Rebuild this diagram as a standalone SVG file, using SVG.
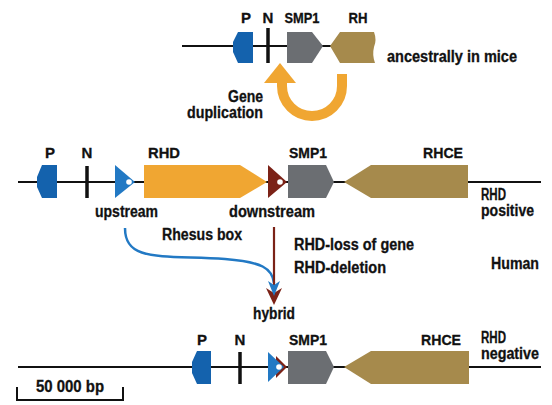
<svg xmlns="http://www.w3.org/2000/svg" width="552" height="405" viewBox="0 0 552 405">
<defs>
<style>
text{font-family:"Liberation Sans","Arial",sans-serif;font-weight:bold;fill:#111;font-size:16px;stroke:#111;stroke-width:0.3;}
.lbl{font-size:15px;text-anchor:middle;}
.line{stroke:#111;stroke-width:2;fill:none;}
.p{fill:#1462ad;}
.n{stroke:#111;stroke-width:3.5;}
.smp{fill:#6b6e72;}
.rh{fill:#a68a4c;}
.rhd{fill:#f0a632;}
.up{fill:#2279c4;}
.dn{fill:#7b2217;}
.hole{fill:#fff;}
</style>
</defs>

<!-- genome lines -->
<g id="lines">
<line class="line" x1="182" y1="46" x2="335" y2="46"/>
<line class="line" x1="18" y1="182" x2="541" y2="182"/>
<line class="line" x1="18" y1="367" x2="541" y2="367"/>
</g>

<!-- Top: ancestral mouse -->
<g id="mouse">
<g id="m-P"><polygon class="p" points="238,32 253,32 253,63 238,63 233,52 233,42"/><text class="lbl" x="246" y="23">P</text></g>
<g id="m-N"><line class="n" x1="268" y1="28" x2="268" y2="63"/><text class="lbl" x="268" y="23">N</text></g>
<g id="m-SMP1"><polygon class="smp" points="287,32 312,32 323,46 312,63 287,63"/><text class="lbl" x="302" y="23" textLength="35" lengthAdjust="spacingAndGlyphs">SMP1</text></g>
<g id="m-RH"><path class="rh" d="M330,46 L340,32 L374,32 Q377,40 374,47 Q372,55 375,63 L340,63 Z"/><text class="lbl" x="358" y="23" textLength="19" lengthAdjust="spacingAndGlyphs">RH</text></g>
<text x="387" y="62" textLength="130" lengthAdjust="spacingAndGlyphs">ancestrally in mice</text>
</g>

<g id="duplication">
<path d="M282,80 L282,86 A30,30 0 0 0 342,86 L342,74" fill="none" stroke="#f0a632" stroke-width="10"/>
<polygon points="280,63 264,83 296,83" fill="#f0a632"/>
<text x="228" y="102" textLength="35" lengthAdjust="spacingAndGlyphs">Gene</text>
<text x="187" y="118" textLength="76" lengthAdjust="spacingAndGlyphs">duplication</text>
</g>

<!-- Middle: RHD positive -->
<g id="pos">
<g id="p-P"><polygon class="p" points="42,165 57,165 57,198 42,198 37,187 37,177"/><text class="lbl" x="50" y="158">P</text></g>
<g id="p-N"><line class="n" x1="87" y1="166" x2="87" y2="198"/><text class="lbl" x="87" y="158">N</text></g>
<g id="p-up"><polygon class="up" points="115,165 135,182 115,198"/><circle class="hole" cx="129" cy="182" r="2.8"/><text x="95" y="217" textLength="63" lengthAdjust="spacingAndGlyphs">upstream</text></g>
<g id="p-RHD"><polygon class="rhd" points="144,165 240,165 267,182 240,198 144,198"/><text class="lbl" x="164" y="158" textLength="32" lengthAdjust="spacingAndGlyphs">RHD</text></g>
<g id="p-dn"><polygon class="dn" points="268,165 287,182 268,198"/><circle class="hole" cx="280" cy="182" r="2.8"/><text x="229" y="217" textLength="86" lengthAdjust="spacingAndGlyphs">downstream</text></g>
<g id="p-SMP1"><polygon class="smp" points="288,165 326,165 334,182 326,198 288,198"/><text class="lbl" x="308" y="158" textLength="38" lengthAdjust="spacingAndGlyphs">SMP1</text></g>
<g id="p-RHCE"><polygon class="rh" points="344,182 371,165 468,165 468,198 371,198"/><text class="lbl" x="443" y="158" textLength="40" lengthAdjust="spacingAndGlyphs">RHCE</text></g>
<text x="481" y="200" textLength="25" lengthAdjust="spacingAndGlyphs">RHD</text>
<text x="481" y="216" textLength="53" lengthAdjust="spacingAndGlyphs">positive</text>
</g>

<!-- connectors -->
<g id="connectors">
<path d="M125,228 C125,262 160,255 225,259 C262,262 272,268 274,283" fill="none" stroke="#2279c4" stroke-width="2.5"/>
<line x1="274" y1="227" x2="274" y2="290" stroke="#7b2217" stroke-width="2.2"/>
<polygon points="266,288 274,293 282,288 274,305" fill="#7b2217"/>
<polygon points="268,281 274,285 280,281 274,296" fill="#2279c4"/>
</g>

<text x="162" y="240" textLength="80" lengthAdjust="spacingAndGlyphs">Rhesus box</text>
<text x="294" y="250" textLength="120" lengthAdjust="spacingAndGlyphs">RHD-loss of gene</text>
<text x="294" y="273" textLength="92" lengthAdjust="spacingAndGlyphs">RHD-deletion</text>
<text x="491" y="269" textLength="48" lengthAdjust="spacingAndGlyphs">Human</text>
<text x="253" y="319" textLength="42" lengthAdjust="spacingAndGlyphs">hybrid</text>

<!-- Bottom: RHD negative -->
<g id="neg">
<g id="n-P"><polygon class="p" points="197,351 211,351 211,384 197,384 192,373 192,362"/><text class="lbl" x="202" y="345">P</text></g>
<g id="n-N"><line class="n" x1="240" y1="352" x2="240" y2="384"/><text class="lbl" x="240" y="345">N</text></g>
<g id="n-hyb"><polygon class="dn" points="276,356 287,367 276,378"/><polygon class="up" points="268,352 284,367 268,382"/><circle class="hole" cx="279" cy="367" r="2.8"/></g>
<g id="n-SMP1"><polygon class="smp" points="288,351 326,351 334,367 326,384 288,384"/><text class="lbl" x="308" y="345" textLength="38" lengthAdjust="spacingAndGlyphs">SMP1</text></g>
<g id="n-RHCE"><polygon class="rh" points="344,367 371,351 469,351 469,384 371,384"/><text class="lbl" x="441" y="345" textLength="40" lengthAdjust="spacingAndGlyphs">RHCE</text></g>
<text x="481" y="343" textLength="25" lengthAdjust="spacingAndGlyphs">RHD</text>
<text x="481" y="359" textLength="58" lengthAdjust="spacingAndGlyphs">negative</text>
</g>

<g id="scale">
<path d="M17,387 L17,400 L123,400 L123,387" fill="none" stroke="#111" stroke-width="2"/>
<text x="36" y="392" textLength="68" lengthAdjust="spacingAndGlyphs">50 000 bp</text>
</g>
</svg>
